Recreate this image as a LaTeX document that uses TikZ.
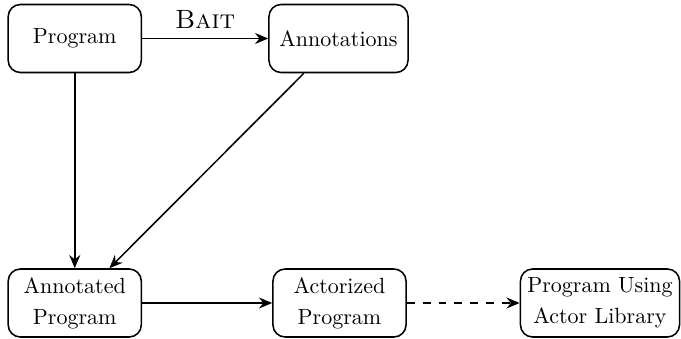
\documentclass[tikz,border=0pt]{standalone}
\usetikzlibrary{arrows.meta}
\begin{document}
\begin{tikzpicture}[x=0.4545pt,y=-0.4545pt,
  box/.style={draw, line width=0.7pt, rounded corners=5.5pt, align=center,
    minimum width=60.5pt, minimum height=30.9pt, inner xsep=2pt, inner ysep=1pt},
  conn/.style={line width=0.7pt, -{Stealth[length=6pt,width=5pt,inset=2pt]}}]
\useasboundingbox (0,0) rectangle (681,339);
\node[box] (prog) at (74.75,38.5) {Program};
\node[box, minimum width=63.2pt] (ann) at (338.5,38.5) {Annotations};
\node[box] (annprog) at (74.75,303) {Annotated\\[2pt]Program};
\node[box] (actor) at (339.5,303) {Actorized\\[2pt]Program};
\node[box, minimum width=72.3pt] (lib) at (600,303) {Program Using\\[2pt]Actor Library};
\draw[conn] (prog) -- node[above, font=\large, inner sep=4pt] (bait) {\textsc{Bait}} (ann);
\draw[conn] (prog) -- (annprog);
\draw[conn] (ann) -- (annprog);
\draw[conn] (annprog) -- (actor);
\draw[conn, dash pattern=on 3.6pt off 3.6pt] (actor) -- (lib);
\end{tikzpicture}
\end{document}
